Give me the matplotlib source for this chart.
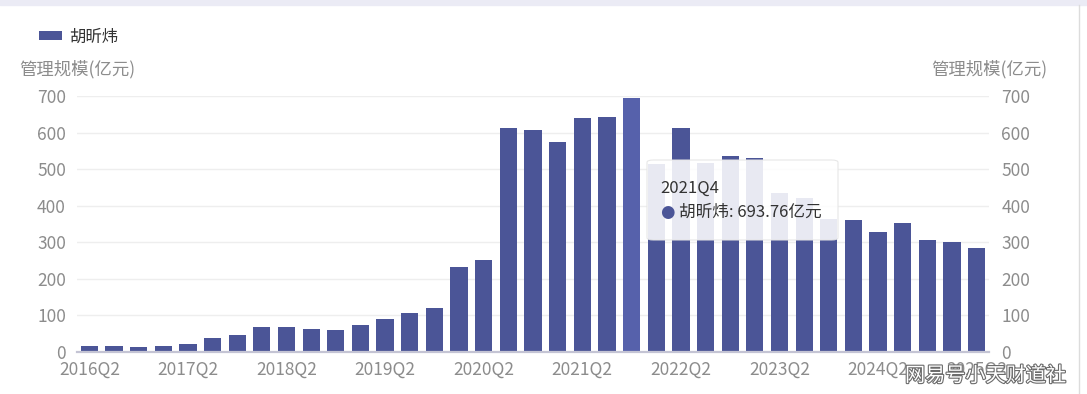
import matplotlib

matplotlib.use("Agg")

import matplotlib.pyplot as plt
import matplotlib.patheffects as pe
from matplotlib.patches import FancyBboxPatch, Rectangle

plt.rcParams["font.family"] = ["Noto Sans CJK SC", "DejaVu Sans"]

# 季度与管理规模(亿元)
quarters = [
    "2016Q2", "2016Q3", "2016Q4",
    "2017Q1", "2017Q2", "2017Q3", "2017Q4",
    "2018Q1", "2018Q2", "2018Q3", "2018Q4",
    "2019Q1", "2019Q2", "2019Q3", "2019Q4",
    "2020Q1", "2020Q2", "2020Q3", "2020Q4",
    "2021Q1", "2021Q2", "2021Q3", "2021Q4",
    "2022Q1", "2022Q2", "2022Q3", "2022Q4",
    "2023Q1", "2023Q2", "2023Q3", "2023Q4",
    "2024Q1", "2024Q2", "2024Q3", "2024Q4",
    "2025Q1", "2025Q2",
]
scale = [
    16, 16, 14,
    17, 23, 38, 46,
    67, 68, 63, 60,
    73, 90, 106, 120,
    232, 252, 612, 606,
    573, 639, 642, 693.76,
    515, 612, 516, 535,
    531, 434, 422, 364,
    362, 327, 354, 305,
    302, 284,
]
manager = "胡昕炜"
highlight = "2021Q4"
y_ticks = [0, 100, 200, 300, 400, 500, 600, 700]

BAR = "#4b5597"
BAR_HI = "#5661ab"
TICK = "#8c8c8c"

fig = plt.figure(figsize=(10.87, 3.94), dpi=100)
W, H = 1087, 394

# franja lavanda superior y borde derecho
fig.patches.append(Rectangle((0, 1 - 5 / H), 1, 5 / H, transform=fig.transFigure,
                             color="#ebebf5", zorder=0))
fig.add_artist(plt.Line2D([1079 / W, 1079 / W], [0, 1 - 5 / H], transform=fig.transFigure,
                          color="#dcdcdc", lw=1))

ax = fig.add_axes([77 / W, 1 - 352 / H, 912 / W, 256 / H])
x = list(range(len(quarters)))
colors = [BAR_HI if q == highlight else BAR for q in quarters]
ax.bar(x, scale, width=0.7, color=colors, zorder=3, label=manager)

ax.set_xlim(-0.5, len(quarters) - 0.5)
ax.set_ylim(0, 700)
ax.set_yticks(y_ticks)
ax.set_xticks(x[::4])
ax.set_xticklabels(quarters[::4])
ax.grid(axis="y", color="#eeeeee", lw=1, zorder=0)
for s in ["top", "right", "left"]:
    ax.spines[s].set_visible(False)
ax.spines["bottom"].set_color("#c4c4d4")
ax.spines["bottom"].set_linewidth(1.6)
ax.spines["bottom"].set_zorder(4)
ax.tick_params(axis="both", length=0, labelsize=12.5, labelcolor=TICK)
ax.tick_params(axis="y", pad=8)
ax.tick_params(axis="x", pad=6.5)

ax2 = ax.twinx()
ax2.set_ylim(ax.get_ylim())
ax2.set_yticks(y_ticks)
for s in ax2.spines.values():
    s.set_visible(False)
ax2.tick_params(axis="y", length=0, labelsize=12.5, labelcolor=TICK, pad=9)

ax.text(0, 1.105, "管理规模(亿元)", transform=ax.transAxes, ha="center", va="center",
        fontsize=12.5, color=TICK)
ax.text(1, 1.105, "管理规模(亿元)", transform=ax.transAxes, ha="center", va="center",
        fontsize=12.5, color=TICK)

leg = fig.legend(loc="center left", bbox_to_anchor=(32 / W, 1 - 37 / H), frameon=False,
                 fontsize=11.8, handlelength=1.45, handleheight=0.5, handletextpad=0.4,
                 borderaxespad=0)
for t in leg.get_texts():
    t.set_color("#333333")

# tooltip
i = quarters.index(highlight)
tip = FancyBboxPatch((647 / W, 1 - 240 / H), 191 / W, 80 / H, transform=fig.transFigure,
                     boxstyle="round,pad=0,rounding_size=0.006", facecolor="white",
                     edgecolor="#e4e4e4", lw=0.8, alpha=0.88, zorder=5)
fig.patches.append(tip)
fig.text(660 / W, 1 - 188 / H, quarters[i], fontsize=12, color="#333333",
         ha="left", va="center", zorder=6)
fig.text(660 / W, 1 - 212 / H, "●", fontsize=12, color=BAR, ha="left", va="center",
         zorder=6, family=["DejaVu Sans"])
fig.text(679 / W, 1 - 212 / H, f"{manager}: {scale[i]:.2f}亿元", fontsize=12,
         color="#333333", ha="left", va="center", zorder=6)

# marca de agua
fig.text(905 / W, 1 - 376 / H, "网易号小天财道社", fontsize=14.5, color="white",
         ha="left", va="center", zorder=7,
         path_effects=[pe.withStroke(linewidth=1.6, foreground="#6a6a6a")])

fig.savefig("out.png", dpi=100)
